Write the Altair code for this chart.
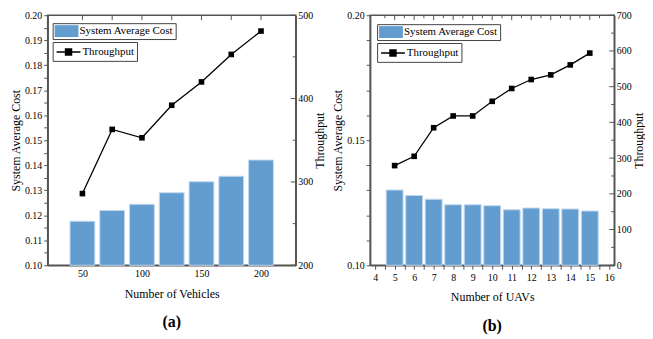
import altair as alt
import pandas as pd

# ---- data ----
vehicles = [50, 75, 100, 125, 150, 175, 200]
cost_a = [0.1176, 0.1219, 0.1244, 0.1290, 0.1334, 0.1356, 0.1421]
thr_a = [286, 363, 353, 392, 420, 453, 481]

uavs = [5, 6, 7, 8, 9, 10, 11, 12, 13, 14, 15]
cost_b = [0.1301, 0.1279, 0.1264, 0.1242, 0.1242, 0.1238, 0.1222, 0.1229, 0.1226, 0.1225, 0.1217]
thr_b = [279, 305, 385, 418, 418, 459, 495, 520, 533, 561, 594]

# ---- axis ticks ----
xticks_a = [50, 100, 150, 200]
xticks_b = [4, 4.5, 5, 5.5, 6, 6.5, 7, 7.5, 8, 8.5, 9, 9.5, 10, 10.5, 11, 11.5,
            12, 12.5, 13, 13.5, 14, 14.5, 15, 15.5, 16]
yticks_a = [0.100, 0.105, 0.110, 0.115, 0.120, 0.125, 0.130, 0.135, 0.140, 0.145, 0.150,
            0.155, 0.160, 0.165, 0.170, 0.175, 0.180, 0.185, 0.190, 0.195, 0.200]
yticks_b = [0.10, 0.11, 0.12, 0.13, 0.14, 0.15, 0.16, 0.17, 0.18, 0.19, 0.20]
y2ticks_a = [200, 300, 400, 500]
y2minor_a = [250, 350, 450]
y2ticks_b = [0, 100, 200, 300, 400, 500, 600, 700]
y2minor_b = [50, 150, 250, 350, 450, 550, 650]
top_major_a = [50, 75, 100, 125, 150, 175, 200]
top_minor_a = []
top_major_b = [5, 6, 7, 8, 9, 10, 11, 12, 13, 14, 15]
top_minor_b = [4.5, 5.5, 6.5, 7.5, 8.5, 9.5, 10.5, 11.5, 12.5, 13.5, 14.5, 15.5]

BLUE = "#639DD0"
FONT = "Liberation Serif"
AX = "#555555"
H = 252


def panel(xs, cost, thr, xdomain, xvalues, xlabel_expr, xtitle, ydomain, yvalues, ylabel_expr,
          y2domain, y2values, y2minor, top_major, top_minor,
          bar_size, label, legx, legy, xticks, W):
    df = pd.DataFrame({"x": xs, "cost": cost, "thr": thr,
                       "cname": "System Average Cost", "tname": "Throughput"})
    base = alt.Chart(df)
    xscale = alt.Scale(domain=xdomain, nice=False, zero=False)
    xaxis = alt.Axis(values=xvalues, title=xtitle, ticks=xticks, tickSize=4,
                     labelPadding=3, titlePadding=10, labelExpr=xlabel_expr,
                     labelOverlap=False, labelFont=FONT, titleFont=FONT)
    xenc = alt.X("x:Q", scale=xscale, axis=xaxis)
    bars = base.mark_bar(size=bar_size, stroke="#C2D8EE", strokeWidth=1).encode(
        x=xenc,
        y=alt.Y("cost:Q", scale=alt.Scale(domain=ydomain, nice=False, zero=False),
                axis=alt.Axis(orient="left", values=yvalues, labelExpr=ylabel_expr,
                              title="System Average Cost", tickSize=4, labelPadding=2,
                              titlePadding=2, labelOverlap=False,
                              labelFont=FONT, titleFont=FONT)),
        y2=alt.datum(ydomain[0]),
        fill=alt.Fill("cname:N",
                      scale=alt.Scale(domain=["System Average Cost"], range=[BLUE]),
                      legend=alt.Legend(title=None, orient="none", legendX=legx, legendY=legy,
                                        fillColor="white", strokeColor="#444", padding=2,
                                        labelFont=FONT, labelFontSize=11, labelColor="black",
                                        symbolType="M-2,-1H2V1H-2Z", symbolSize=144,
                                        symbolStrokeWidth=0, symbolOffset=6, labelOffset=7)),
    )
    y2scale = alt.Scale(domain=y2domain, nice=False, zero=False)
    y2axis = alt.Axis(orient="right", values=y2values, title="Throughput",
                      ticks=False, labelPadding=2, titlePadding=2, titleAngle=270,
                      titleBaseline="top", labelOverlap=False, labelFont=FONT, titleFont=FONT)
    yr = alt.Y("thr:Q", scale=y2scale, axis=y2axis)
    line = base.mark_line(strokeWidth=1.3).encode(
        x=xenc,
        y=yr,
        stroke=alt.Stroke("tname:N", scale=alt.Scale(domain=["Throughput"], range=["black"]),
                          legend=alt.Legend(title=None, orient="none", legendX=legx,
                                            legendY=legy + 19,
                                            fillColor="white", strokeColor="#444", padding=3,
                                            labelFont=FONT, labelFontSize=11,
                                            labelColor="black",
                                            symbolType="M-2,0H2M-0.5,-0.5H0.5V0.5H-0.5Z",
                                            symbolSize=144, symbolStrokeWidth=1.5,
                                            symbolFillColor="black", symbolStrokeColor="black",
                                            symbolOffset=6, labelOffset=7)),
    )
    pts = base.mark_square(size=32, color="black", opacity=1).encode(x=xenc, y=yr)

    # inward ticks on the right axis
    rmaj = alt.Chart(pd.DataFrame({"thr": y2values})).mark_rule(color=AX).encode(
        y=yr, x=alt.value(W), x2=alt.value(W - 5))
    rmin = alt.Chart(pd.DataFrame({"thr": y2minor})).mark_rule(color=AX).encode(
        y=yr, x=alt.value(W), x2=alt.value(W - 3))
    # inward ticks on the top frame
    tmaj = alt.Chart(pd.DataFrame({"x": top_major})).mark_rule(color=AX).encode(
        x=xenc, y=alt.value(0), y2=alt.value(5))
    layers = [bars, tmaj]
    if top_minor:
        tmin = alt.Chart(pd.DataFrame({"x": top_minor})).mark_rule(color=AX).encode(
            x=xenc, y=alt.value(0), y2=alt.value(3))
        layers.append(tmin)
    right = alt.layer(line, pts, rmaj, rmin) if y2minor else alt.layer(line, pts, rmaj)
    layers.append(right)
    return alt.layer(*layers).resolve_scale(y="independent").properties(
        width=W, height=H,
        title=alt.Title(label, orient="bottom", font=FONT, fontSize=16, fontWeight="bold",
                        offset=15, color="black"),
    )


pa = panel(vehicles, cost_a, thr_a, [25, 225], xticks_a, "format(datum.value, 'd')",
           "Number of Vehicles", [0.10, 0.20], yticks_a,
           "round(datum.value * 1000) % 10 == 0 ? format(datum.value, '.2f') : ''",
           [200, 500], y2ticks_a, y2minor_a, top_major_a, top_minor_a,
           25, "(a)", 5, 8, False, 250)
pb = panel(uavs, cost_b, thr_b, [4, 16], xticks_b,
           "datum.value % 1 == 0 ? format(datum.value, 'd') : ''",
           "Number of UAVs", [0.10, 0.20], yticks_b,
           "round(datum.value * 1000) % 50 == 0 ? format(datum.value, '.2f') : ''",
           [0, 700], y2ticks_b, y2minor_b, top_major_b, top_minor_b,
           17, "(b)", 7, 9, True, 246)

chart = alt.hconcat(pa, pb, spacing=4).resolve_scale(
    fill="independent", stroke="independent"
).resolve_legend(fill="independent", stroke="independent").properties(
    padding={"left": 0, "top": 0, "right": 0, "bottom": 0}
).configure(font=FONT).configure_axis(
    domainColor=AX, domainWidth=1.5, tickColor=AX, tickWidth=1,
    labelFont=FONT, labelFontSize=10, labelColor="black",
    titleFont=FONT, titleFontSize=12, titleFontWeight="normal", titleColor="black",
    grid=False,
).configure_legend(labelFont=FONT).configure_view(stroke=AX, strokeWidth=1.5)

chart.save("out.html", embed_options={"renderer": "svg", "actions": False})
